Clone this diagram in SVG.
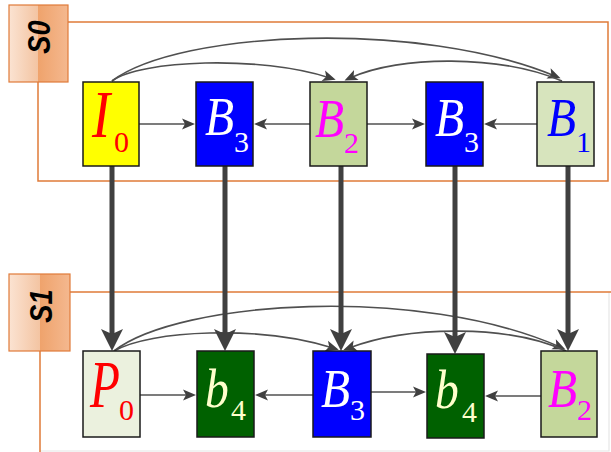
<svg xmlns="http://www.w3.org/2000/svg" width="611" height="452" viewBox="0 0 611 452">
<style>
.frame{fill:none;stroke:#E07B39;stroke-width:1.5}
.box{stroke:#1a1a1a;stroke-width:1.5}
.lbl{stroke:#E07B39;stroke-width:1.2}
.lt{font-family:"Liberation Sans",Arial,sans-serif;font-weight:bold;font-style:italic;font-size:32px;fill:#000;text-anchor:middle}
.m{font-family:"Liberation Serif","Times New Roman",serif;font-style:italic;font-size:56px}
.mb{font-family:"Liberation Serif","Times New Roman",serif;font-style:italic;font-size:68px}
.s{font-family:"Liberation Serif","Times New Roman",serif;font-size:30px}
.thin{fill:none;stroke:#505050;stroke-width:1.6}
.thick{fill:none;stroke:#404040;stroke-width:5}
</style>
<defs>
<linearGradient id="gl" x1="0" y1="0" x2="1" y2="0"><stop offset="0" stop-color="#FBE3D2"/><stop offset="1" stop-color="#F3C4A2"/></linearGradient>
<linearGradient id="gr" x1="0" y1="0" x2="1" y2="0"><stop offset="0" stop-color="#EFA36C"/><stop offset="1" stop-color="#F4B88F"/></linearGradient>
<marker id="ah" markerUnits="userSpaceOnUse" markerWidth="14" markerHeight="12" refX="7" refY="5.5" orient="auto" overflow="visible"><path d="M0,0 L13,5.5 L0,11 L3,5.5 z" fill="#404040"/></marker>
<marker id="AH" markerUnits="userSpaceOnUse" markerWidth="24" markerHeight="24" refX="10" refY="11" orient="auto" overflow="visible"><path d="M0,0 L22,11 L0,22 L5,11 z" fill="#404040"/></marker>
</defs>
<rect width="611" height="452" fill="#fff"/>

<g id="frame-s0">
<path class="frame" d="M68,22 H608 V181 H38 V82"/>
</g>
<g id="frame-s1">
<path d="M609,292 V451 H40" fill="none" stroke="#E6E6E6" stroke-width="1.2"/>
<path class="frame" d="M70,292 H611 M40,351 V452"/>
</g>
<g id="label-s0">
<rect x="9" y="5" width="29" height="77" fill="url(#gl)"/>
<rect x="38" y="5" width="30" height="77" fill="url(#gr)"/>
<rect class="lbl" x="9" y="5" width="59" height="77" fill="none"/>
<text class="lt" transform="translate(50,37) rotate(-90) scale(0.85,1)">S0</text>
</g>
<g id="label-s1">
<rect x="9" y="274" width="31" height="77" fill="url(#gl)"/>
<rect x="40" y="274" width="30" height="77" fill="url(#gr)"/>
<rect class="lbl" x="9" y="274" width="61" height="77" fill="none"/>
<text class="lt" transform="translate(52,306) rotate(-90) scale(0.85,1)">S1</text>
</g>

<g id="connectors">
<path class="thin" d="M112,81 C180,30 420,20 555,76" marker-end="url(#ah)"/>
<path class="thin" d="M112,81 C140,60 260,55 330,78" marker-end="url(#ah)"/>
<path class="thin" d="M562,81 C500,55 400,55 350,78" marker-end="url(#ah)"/>
<path class="thin" d="M139,124 H189" marker-end="url(#ah)"/>
<path class="thin" d="M310,124 H260" marker-end="url(#ah)"/>
<path class="thin" d="M367,124 H419" marker-end="url(#ah)"/>
<path class="thin" d="M537,124 H490" marker-end="url(#ah)"/>
<path class="thin" d="M114,351 C180,300 420,285 560,347" marker-end="url(#ah)"/>
<path class="thin" d="M114,351 C150,330 260,325 333,348" marker-end="url(#ah)"/>
<path class="thin" d="M566,351 C510,325 410,325 349,348" marker-end="url(#ah)"/>
<path class="thin" d="M140,395 H190" marker-end="url(#ah)"/>
<path class="thin" d="M313,395 H261" marker-end="url(#ah)"/>
<path class="thin" d="M371,392 H420" marker-end="url(#ah)"/>
<path class="thin" d="M541,396 H491" marker-end="url(#ah)"/>
<path class="thick" d="M112,166 V339" marker-end="url(#AH)"/>
<path class="thick" d="M225,166 V339" marker-end="url(#AH)"/>
<path class="thick" d="M341,166 V339" marker-end="url(#AH)"/>
<path class="thick" d="M455,166 V342" marker-end="url(#AH)"/>
<path class="thick" d="M568,166 V339" marker-end="url(#AH)"/>
</g>

<g id="I0">
<rect class="box" x="83" y="82" width="56" height="84" fill="#FFFF00"/>
<text class="mb" transform="translate(92,137) scale(0.8,1)" fill="#FF0000">I</text>
<text class="s" x="114" y="152" fill="#FF0000">0</text>
</g>
<g id="B3-top-a">
<rect class="box" x="196" y="82" width="57" height="84" fill="#0000FF"/>
<text class="m" transform="translate(205,135) scale(0.85,1)" fill="#FFFFFF">B</text>
<text class="s" x="234" y="152" fill="#FFFFFF">3</text>
</g>
<g id="B2-top">
<rect class="box" x="310" y="82" width="57" height="84" fill="#C4D79B"/>
<text class="m" transform="translate(315,137) scale(0.85,1)" fill="#FF00FF">B</text>
<text class="s" x="344" y="153" fill="#FF00FF">2</text>
</g>
<g id="B3-top-b">
<rect class="box" x="426" y="82" width="57" height="84" fill="#0000FF"/>
<text class="m" transform="translate(435,136) scale(0.85,1)" fill="#FFFFFF">B</text>
<text class="s" x="464" y="152" fill="#FFFFFF">3</text>
</g>
<g id="B1-top">
<rect class="box" x="537" y="82" width="57" height="84" fill="#D7E4BD"/>
<text class="m" transform="translate(547,136) scale(0.85,1)" fill="#0000FF">B</text>
<text class="s" x="576" y="152" fill="#0000FF">1</text>
</g>

<g id="P0">
<rect class="box" x="83" y="351" width="57" height="86" fill="#EBF1DE"/>
<text class="mb" transform="translate(90,407) scale(0.72,1)" fill="#FF0000">P</text>
<text class="s" x="119" y="420" fill="#FF0000">0</text>
</g>
<g id="b4-a">
<rect class="box" x="197" y="351" width="57" height="86" fill="#006100"/>
<text class="m" transform="translate(205,407) scale(0.85,1)" fill="#FFFFCC">b</text>
<text class="s" x="231" y="420" fill="#FFFFCC">4</text>
</g>
<g id="B3-bottom">
<rect class="box" x="313" y="351" width="58" height="86" fill="#0000FF"/>
<text class="m" transform="translate(321,407) scale(0.85,1)" fill="#FFFFFF">B</text>
<text class="s" x="350" y="420" fill="#FFFFFF">3</text>
</g>
<g id="b4-b">
<rect class="box" x="427" y="354" width="57" height="84" fill="#006100"/>
<text class="m" transform="translate(435,408) scale(0.85,1)" fill="#FFFFCC">b</text>
<text class="s" x="462" y="422" fill="#FFFFCC">4</text>
</g>
<g id="B2-bottom">
<rect class="box" x="541" y="351" width="56" height="86" fill="#C4D79B"/>
<text class="m" transform="translate(548,407) scale(0.85,1)" fill="#FF00FF">B</text>
<text class="s" x="577" y="420" fill="#FF00FF">2</text>
</g>
</svg>
